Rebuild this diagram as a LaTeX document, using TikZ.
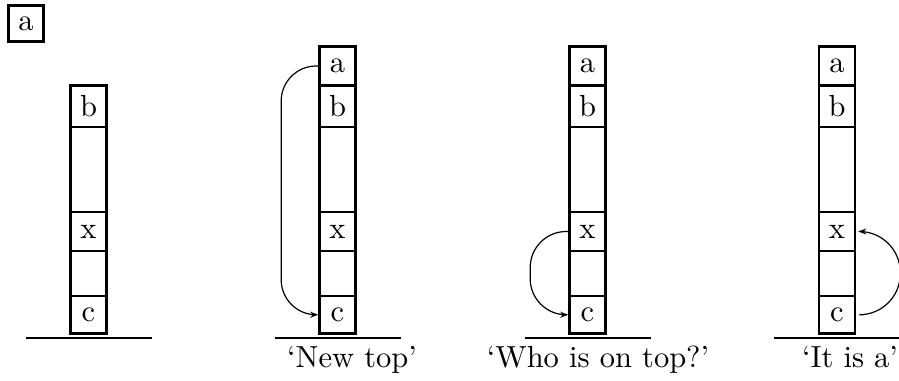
\documentclass[tikz,border=0pt]{standalone}
\usetikzlibrary{arrows.meta}
\newcommand{\bigtxt}[1]{\scalebox{3.05}{#1}}
\begin{document}
\begin{tikzpicture}[x=1pt,y=-1pt,
  font=\fontsize{10}{12}\selectfont,
  cell/.style={draw, line width=2.6pt, minimum width=36pt, inner sep=0pt, anchor=center},
  lbl/.style={draw, line width=2.4pt, minimum width=35pt, minimum height=36pt, inner sep=0pt},
  ground/.style={line width=2.6pt},
  arr/.style={line width=1.2pt, -{Stealth[length=8pt,width=6pt]}},
  captext/.style={anchor=base}]
\useasboundingbox (0,0) rectangle (899,380);
% label box
\node[lbl] (lab) at (26,23.5) {\bigtxt{a}};
% stacks
\foreach \s/\cx in {1/88.5, 2/337.5, 3/587.5, 4/837} {
  \node[cell, minimum height=41.5pt] (b\s) at (\cx,106.25) {\bigtxt{b}};
  \node[cell, minimum height=85pt] (e\s) at (\cx,169.5) {};
  \node[cell, minimum height=39pt] (x\s) at (\cx,231.5) {\bigtxt{x}};
  \node[cell, minimum height=45pt] (f\s) at (\cx,273.5) {};
  \node[cell, minimum height=37.5pt] (c\s) at (\cx,314.75) {\bigtxt{c}};
  \draw[ground] (\cx-63,338) -- (\cx+63,338);
}
\foreach \s/\cx in {2/337.5, 3/587.5, 4/837} {
  \node[cell, minimum height=39pt] (a\s) at (\cx,66) {\bigtxt{a}};
}
% arrows
\draw[arr, rounded corners=35pt] (a2.west) -| ([xshift=-37pt]c2.west) -- (c2.west);
\draw[arr, rounded corners=36pt] (x3.west) -| ([xshift=-38pt]c3.west) -- (c3.west);
\draw[arr, rounded corners=41pt, shorten <=7pt, shorten >=2pt] (c4.east) -| ([xshift=44pt]x4.east) -- (x4.east);
% captions
\node[captext] (t2) at (352,367) {\bigtxt{‘New top’}};
\node[captext] (t3) at (598,367) {\bigtxt{‘Who is on top?’}};
\node[captext] (t4) at (850,367) {\bigtxt{‘It is a’}};
\end{tikzpicture}
\end{document}
